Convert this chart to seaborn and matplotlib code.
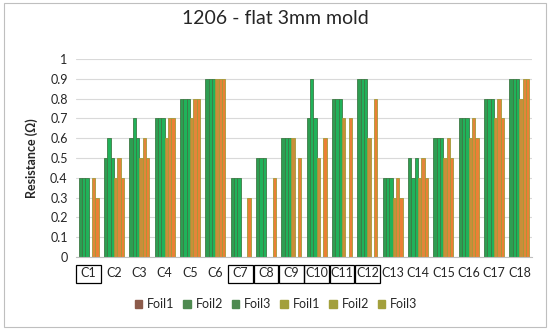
import numpy as np
import pandas as pd
import matplotlib
matplotlib.use("Agg")
import matplotlib.pyplot as plt
from matplotlib.patches import Patch, Rectangle
import seaborn as sns

categories = [f"C{i}" for i in range(1, 19)]
series_ids = ["A-Foil1", "A-Foil2", "A-Foil3", "B-Foil1", "B-Foil2", "B-Foil3"]
series_labels = ["Foil1", "Foil2", "Foil3", "Foil1", "Foil2", "Foil3"]

a_foil1 = [0.4, 0.5, 0.6, 0.7, 0.8, 0.9, 0.4, 0.5, 0.6, 0.7, 0.8, 0.9, 0.4, 0.5, 0.6, 0.7, 0.8, 0.9]
a_foil2 = [0.4, 0.6, 0.7, 0.7, 0.8, 0.9, 0.4, 0.5, 0.6, 0.9, 0.8, 0.9, 0.4, 0.4, 0.6, 0.7, 0.8, 0.9]
a_foil3 = [0.4, 0.5, 0.6, 0.7, 0.8, 0.9, 0.4, 0.5, 0.6, 0.7, 0.8, 0.9, 0.4, 0.5, 0.6, 0.7, 0.8, 0.9]
b_foil1 = [None, 0.4, 0.5, 0.6, 0.7, 0.9, None, None, 0.6, 0.5, 0.7, 0.6, 0.3, 0.4, 0.5, 0.6, 0.7, 0.8]
b_foil2 = [0.4, 0.5, 0.6, 0.7, 0.8, 0.9, None, None, None, None, None, None, 0.4, 0.5, 0.6, 0.7, 0.8, 0.9]
b_foil3 = [0.3, 0.4, 0.5, 0.7, 0.8, 0.9, 0.3, 0.4, 0.5, 0.6, 0.7, 0.8, 0.3, 0.4, 0.5, 0.6, 0.7, 0.9]

boxed = ["C1", "C7", "C8", "C9", "C10", "C11", "C12"]
y_ticks = [0, 0.1, 0.2, 0.3, 0.4, 0.5, 0.6, 0.7, 0.8, 0.9, 1]
y_tick_labels = ["0", "0.1", "0.2", "0.3", "0.4", "0.5", "0.6", "0.7", "0.8", "0.9", "1"]

series_values = [a_foil1, a_foil2, a_foil3, b_foil1, b_foil2, b_foil3]
rows = []
for sid, vals in zip(series_ids, series_values):
    for c, v in zip(categories, vals):
        rows.append({"cat": c, "series": sid, "val": np.nan if v is None else v})
df = pd.DataFrame(rows)

face_colors = {"A-Foil1": "#2E9E52", "A-Foil2": "#20B25A", "A-Foil3": "#20B25A",
               "B-Foil1": "#C98E3A", "B-Foil2": "#E3853A", "B-Foil3": "#EB8035"}
edge_colors = ["#3D7A45", "#3D7A45", "#3D7A45", "#A39A38", "#A39A38", "#A39A38"]
legend_colors = ["#8C5B4B", "#4E8A50", "#4E8A50", "#A3A03C", "#A3A03C", "#A3A03C"]

sns.set_theme(style="white")
plt.rcParams["font.family"] = ["Lato", "DejaVu Sans"]
text_color = "#262626"

fig = plt.figure(figsize=(5.5, 3.32), dpi=100)
ax = fig.add_axes([76 / 550, 1 - 257 / 332, 456 / 550, 198 / 332])

sns.barplot(data=df, x="cat", y="val", hue="series", order=categories,
            hue_order=series_ids, palette=face_colors, width=0.78, gap=0,
            legend=False, ax=ax, saturation=1)
for cont, ec in zip(ax.containers, edge_colors):
    for p in cont.patches:
        p.set_edgecolor(ec)
        p.set_linewidth(0.6)

ax.set_ylim(0, 1)
ax.set_xlim(-0.5, len(categories) - 0.5)
ax.set_yticks(y_ticks)
ax.set_yticklabels(y_tick_labels)
ax.yaxis.grid(True, color="#D9D9D9", linewidth=0.8)
ax.set_axisbelow(True)
for s in ["left", "right", "top"]:
    ax.spines[s].set_visible(False)
ax.spines["bottom"].set_color("#BFBFBF")
ax.spines["bottom"].set_linewidth(0.8)
ax.tick_params(axis="both", length=0, labelsize=9, colors=text_color, pad=6)
ax.tick_params(axis="x", pad=7)
ax.set_xlabel("")
ax.set_ylabel("Resistance (Ω)", fontsize=9, fontweight="bold", color=text_color)
ax.yaxis.set_label_coords(-0.083, 0.5)

trans = ax.get_xaxis_transform()
for i, c in enumerate(categories):
    if c in boxed:
        ax.add_patch(Rectangle((i - 0.49, -0.131), 0.98, 0.091, transform=trans,
                               fill=False, edgecolor="black", linewidth=0.9, clip_on=False))

fig.text(0.5, 1 - 18 / 332, "1206 - flat 3mm mold", ha="center", va="center",
         fontsize=14, color=text_color)

handles = [Patch(facecolor=c, edgecolor=c) for c in legend_colors]
fig.legend(handles, series_labels, loc="center", bbox_to_anchor=(276 / 550, 1 - 304 / 332),
           ncol=6, frameon=False, fontsize=9, handlelength=0.6, handleheight=0.6,
           handletextpad=0.4, columnspacing=0.7, labelcolor=text_color)

fig.add_artist(Rectangle((4 / 550, 5 / 332), 542 / 550, 324 / 332, transform=fig.transFigure,
                         fill=False, edgecolor="#BFBFBF", linewidth=0.8))

fig.savefig("out.png", dpi=100)
